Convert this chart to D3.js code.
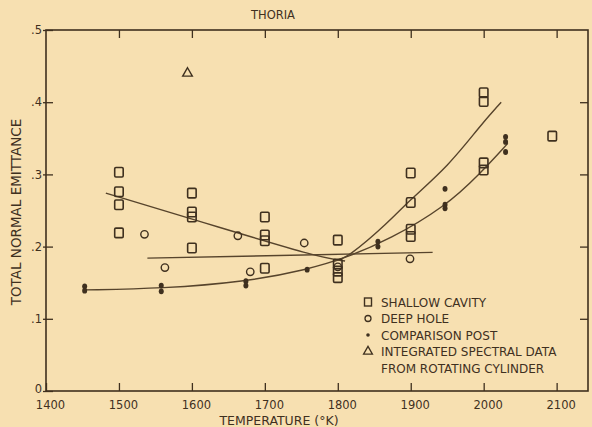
<!DOCTYPE html>
<html><head><meta charset="utf-8">
<script src="https://cdn.jsdelivr.net/npm/d3@7"></script>
<style>
html,body{margin:0;padding:0;background:#f7e0b1;}
svg{display:block;}
text{font-family:"DejaVu Sans",sans-serif;fill:#3f301f;}
</style></head><body>
<svg id="c" width="592" height="427"></svg>
<script>
// ---- data ----
const title = "THORIA";
const xTicks = [1400,1500,1600,1700,1800,1900,2000,2100];
const yTicks = [0,0.1,0.2,0.3,0.4,0.5];
const yTickLabels = ["0",".1",".2",".3",".4",".5"];
const shallowT = [1500,1500,1500,1500,1600,1600,1600,1600,1700,1700,1700,1700,1800,1800,1800,1800,1900,1900,1900,1900,2000,2000,2000,2000,2094];
const shallowE = [0.303,0.276,0.258,0.219,0.274,0.248,0.241,0.198,0.241,0.216,0.208,0.170,0.209,0.176,0.166,0.157,0.302,0.261,0.224,0.214,0.413,0.401,0.316,0.306,0.353];
const deepT = [1535,1563,1663,1680,1754,1800,1899];
const deepE = [0.217,0.171,0.215,0.165,0.205,0.172,0.183];
const postT = [1453,1453,1558,1558,1674,1674,1758,1855,1855,1947,1947,1947,2030,2030,2030];
const postE = [0.145,0.139,0.146,0.138,0.152,0.146,0.168,0.207,0.200,0.280,0.258,0.253,0.352,0.345,0.331];
const spectralT = [1594];
const spectralE = [0.440];
const fitShallowFallT = [1482,1640,1775,1810];
const fitShallowFallE = [0.274,0.226,0.185,0.180];
const fitDeepT = [1539,1930];
const fitDeepE = [0.184,0.192];
const fitPostT = [1453,1560,1672,1758,1813,1871,1947,1995,2033];
const fitPostE = [0.140,0.142,0.151,0.168,0.185,0.210,0.255,0.301,0.343];
const fitShallowRiseT = [1795,1813,1870,1895,1953,1994,2024];
const fitShallowRiseE = [0.180,0.184,0.234,0.261,0.313,0.366,0.400];
const legendLabels = ["SHALLOW CAVITY","DEEP HOLE","COMPARISON POST","INTEGRATED SPECTRAL DATA","FROM ROTATING CYLINDER"];

// ---- chart ----
const ink = "#3f301f", lineInk = "#57442c";
const svg = d3.select("#c");
const x = d3.scaleLinear().domain([1400,2143]).range([46,588]);
const y = d3.scaleLinear().domain([0,0.5]).range([391,30]);
const zip = (a,b)=>a.map((v,i)=>[v,b[i]]);

// frame
svg.append("rect").attr("x",x(1400)).attr("y",y(0.5)).attr("width",x(2143)-x(1400)).attr("height",y(0)-y(0.5))
  .attr("fill","none").attr("stroke",ink).attr("stroke-width",1.6);

// axes (inward ticks)
const gBottom = svg.append("g").attr("transform",`translate(0,${y(0)})`)
  .call(d3.axisBottom(x).tickValues(xTicks).tickSize(-8).tickFormat(d3.format("d")).tickPadding(10));
gBottom.select(".domain").remove();
gBottom.selectAll(".tick line").attr("stroke",ink).attr("stroke-width",1.3);
gBottom.selectAll(".tick text").attr("font-size",11.5).attr("dx",4).attr("fill",ink).style("font-family","DejaVu Sans");

const gTop = svg.append("g").attr("transform",`translate(0,${y(0.5)})`)
  .call(d3.axisTop(x).tickValues(xTicks.slice(1)).tickSize(-8).tickFormat(""));
gTop.select(".domain").remove();
gTop.selectAll(".tick line").attr("stroke",ink).attr("stroke-width",1.3);

const gLeft = svg.append("g").attr("transform",`translate(${x(1400)},0)`)
  .call(d3.axisLeft(y).tickValues(yTicks).tickSize(-7).tickFormat((d,i)=>yTickLabels[i]).tickPadding(4));
gLeft.select(".domain").remove();
gLeft.selectAll(".tick line").attr("stroke",ink).attr("stroke-width",1.3).attr("x1",-3);
gLeft.selectAll(".tick text").attr("font-size",11.5).attr("fill",ink).style("font-family","DejaVu Sans");
gLeft.selectAll(".tick text").filter(d=>d===0).attr("dy","0.15em");

const gRight = svg.append("g").attr("transform",`translate(${x(2143)},0)`)
  .call(d3.axisRight(y).tickValues(yTicks.slice(1,5)).tickSize(-8).tickFormat(""));
gRight.select(".domain").remove();
gRight.selectAll(".tick line").attr("stroke",ink).attr("stroke-width",1.3);

// titles
svg.append("text").attr("x",273).attr("y",19).attr("text-anchor","middle").attr("font-size",11.5).text(title);
svg.append("text").attr("x",279).attr("y",425).attr("text-anchor","middle").attr("font-size",12.5).text("TEMPERATURE (°K)");
svg.append("text").attr("transform","translate(21,212) rotate(-90)").attr("text-anchor","middle").attr("font-size",13.5).text("TOTAL NORMAL EMITTANCE");

// fit lines
const lineGen = d3.line().x(d=>x(d[0])).y(d=>y(d[1])).curve(d3.curveBasis);
const fits = [zip(fitShallowFallT,fitShallowFallE), zip(fitDeepT,fitDeepE), zip(fitPostT,fitPostE), zip(fitShallowRiseT,fitShallowRiseE)];
svg.append("g").selectAll("path").data(fits).join("path")
  .attr("d",lineGen).attr("fill","none").attr("stroke",lineInk).attr("stroke-width",1.4);

// markers
const sq = 8.5;
svg.append("g").selectAll("rect").data(zip(shallowT,shallowE)).join("rect")
  .attr("x",d=>x(d[0])-sq/2).attr("y",d=>y(d[1])-sq/2-0.5).attr("width",sq).attr("height",sq+1).attr("rx",1.2)
  .attr("fill","none").attr("stroke",ink).attr("stroke-width",1.6);
svg.append("g").selectAll("circle").data(zip(deepT,deepE)).join("circle")
  .attr("cx",d=>x(d[0])).attr("cy",d=>y(d[1])).attr("r",3.7)
  .attr("fill","none").attr("stroke",ink).attr("stroke-width",1.4);
svg.append("g").selectAll("ellipse").data(zip(postT,postE)).join("ellipse")
  .attr("cx",d=>x(d[0])).attr("cy",d=>y(d[1])).attr("rx",2.5).attr("ry",2.9).attr("fill",ink);
const tri = d3.symbol().type(d3.symbolTriangle).size(40);
svg.append("g").selectAll("path").data(zip(spectralT,spectralE)).join("path")
  .attr("transform",d=>`translate(${x(d[0])},${y(d[1])})`).attr("d",tri)
  .attr("fill","none").attr("stroke",ink).attr("stroke-width",1.4);

// legend
const lg = svg.append("g");
const ly0 = 302, ldy = 16.5, lx = 368;
lg.append("rect").attr("x",lx-3.5).attr("y",ly0-4).attr("width",7).attr("height",8).attr("fill","none").attr("stroke",ink).attr("stroke-width",1.4);
lg.append("circle").attr("cx",lx).attr("cy",ly0+ldy).attr("r",3).attr("fill","none").attr("stroke",ink).attr("stroke-width",1.3);
lg.append("circle").attr("cx",lx).attr("cy",ly0+2*ldy).attr("r",1.8).attr("fill",ink);
lg.append("path").attr("transform",`translate(${lx},${ly0+3*ldy})`).attr("d",d3.symbol().type(d3.symbolTriangle).size(34)).attr("fill","none").attr("stroke",ink).attr("stroke-width",1.3);
lg.selectAll("text").data(legendLabels).join("text")
  .attr("x",381).attr("y",(d,i)=>ly0+i*ldy+4.5).attr("font-size",12).text(d=>d);
</script>
</body></html>
